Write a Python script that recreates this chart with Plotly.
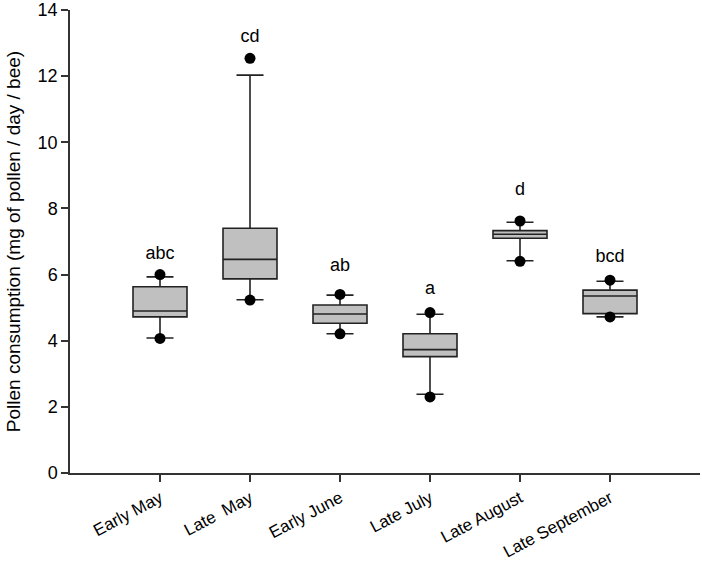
import plotly.graph_objects as go

categories = ["Early May", "Late  May", "Early June", "Late July", "Late August", "Late September"]
positions = [1, 2, 3, 4, 5, 6]
lower_whisker = [4.08, 5.24, 4.21, 2.38, 6.42, 4.72]
q1 = [4.72, 5.87, 4.53, 3.52, 7.10, 4.82]
median = [4.90, 6.46, 4.81, 3.73, 7.22, 5.35]
q3 = [5.63, 7.40, 5.08, 4.21, 7.33, 5.53]
upper_whisker = [5.93, 12.03, 5.38, 4.80, 7.58, 5.80]
low_points = [4.07, 5.23, 4.21, 2.30, 6.40, 4.72]
high_points = [6.00, 12.54, 5.40, 4.85, 7.62, 5.83]
letters = ["abc", "cd", "ab", "a", "d", "bcd"]
letter_y = [6.60, 13.16, 6.25, 5.55, 8.53, 6.52]

FONT = "Arial, Liberation Sans, sans-serif"

fig = go.Figure()
fig.add_trace(go.Box(
    x=positions, q1=q1, median=median, q3=q3,
    lowerfence=lower_whisker, upperfence=upper_whisker,
    width=0.6, whiskerwidth=0.5,
    fillcolor="#c0c0c0", line=dict(color="#222222", width=1.6),
    boxpoints=False, hoverinfo="skip", showlegend=False,
))
fig.add_trace(go.Scatter(
    x=positions + positions, y=low_points + high_points, mode="markers",
    marker=dict(color="black", size=11), hoverinfo="skip", showlegend=False,
))
fig.add_trace(go.Scatter(
    x=positions, y=letter_y, mode="text", text=letters,
    textposition="middle center", textfont=dict(family=FONT, size=18, color="black"),
    hoverinfo="skip", showlegend=False,
))

fig.update_layout(
    width=702, height=563,
    margin=dict(l=70, r=2, t=10, b=90),
    paper_bgcolor="white", plot_bgcolor="white",
    font=dict(family=FONT, color="black"),
)
fig.update_xaxes(
    range=[0, 7], tickvals=positions, ticktext=categories, tickangle=-28,
    showgrid=False, zeroline=False, showline=True, linecolor="#333333", linewidth=1.5,
    ticks="outside", ticklen=7, tickwidth=1.5, tickcolor="#333333",
    tickfont=dict(family=FONT, size=17, color="black"), automargin=False,
    ticklabeloverflow="allow",
)
fig.update_yaxes(
    range=[0, 14], tickvals=[0, 2, 4, 6, 8, 10, 12, 14],
    showgrid=False, zeroline=False, showline=True, linecolor="#333333", linewidth=1.5,
    ticks="outside", ticklen=7, tickwidth=1.5, tickcolor="#333333",
    tickfont=dict(family=FONT, size=18, color="black"), automargin=False,
    ticklabeloverflow="allow",
    title=dict(text="Pollen consumption (mg of pollen / day / bee)",
               font=dict(family=FONT, size=19, color="black"), standoff=12),
)

fig.write_html("out.html", config={"displayModeBar": False},
               post_script="document.body.style.margin='0';")
